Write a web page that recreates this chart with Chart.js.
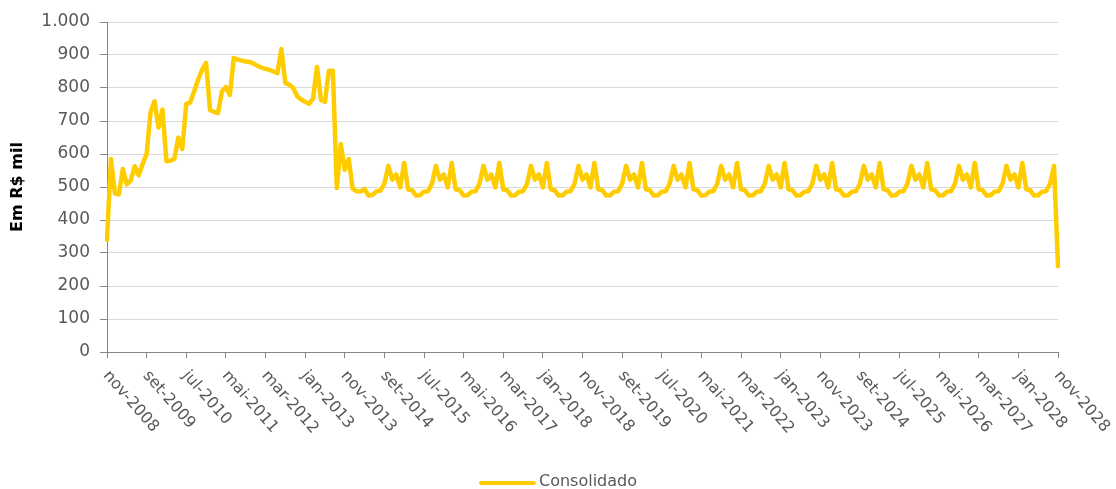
<!DOCTYPE html>
<html>
<head>
<meta charset="utf-8">
<script src="https://cdn.jsdelivr.net/npm/chart.js@4/dist/chart.umd.min.js"></script>
<style>
  html, body { margin: 0; padding: 0; background: #ffffff; }
</style>
</head>
<body>
<canvas id="chart" width="1116" height="489"></canvas>
<script>
// month names (pt-BR) used to build the monthly categories, nov-2008 .. nov-2028
const monthNames = ["jan", "fev", "mar", "abr", "mai", "jun", "jul", "ago", "set", "out", "nov", "dez"];

// labels shown under the x axis (every 10 months)
const tickLabels = [
  "nov-2008", "set-2009", "jul-2010", "mai-2011", "mar-2012", "jan-2013", "nov-2013",
  "set-2014", "jul-2015", "mai-2016", "mar-2017", "jan-2018", "nov-2018", "set-2019",
  "jul-2020", "mai-2021", "mar-2022", "jan-2023", "nov-2023", "set-2024", "jul-2025",
  "mai-2026", "mar-2027", "jan-2028", "nov-2028"
];

// Consolidado, Em R$ mil — one row per nov..out
const consolidado = [
  340, 585, 480, 478, 555, 508, 520, 563, 535, 570, 600, 728,   // nov-2008 .. out-2009
  760, 680, 735, 578, 580, 585, 650, 615, 752, 756, 790, 825,   // nov-2009 .. out-2010
  855, 876, 733, 728, 724, 790, 803, 779, 891, 886, 883, 880,   // nov-2010 .. out-2011
  879, 874, 867, 862, 858, 855, 850, 845, 918, 815, 810, 800,   // nov-2011 .. out-2012
  775, 765, 758, 752, 768, 864, 764, 758, 852, 852, 497, 630,   // nov-2012 .. out-2013
  552, 585, 495, 487, 486, 494, 474, 476, 487, 489, 510, 564,   // nov-2013 .. out-2014
  522, 538, 499, 573, 493, 490, 474, 475, 486, 487, 510, 564,   // nov-2014 .. out-2015
  522, 538, 499, 573, 493, 490, 474, 475, 486, 487, 510, 564,   // 2016
  522, 538, 499, 573, 493, 490, 474, 475, 486, 487, 510, 564,   // 2017
  522, 538, 499, 573, 493, 490, 474, 475, 486, 487, 510, 564,   // 2018
  522, 538, 499, 573, 493, 490, 474, 475, 486, 487, 510, 564,   // 2019
  522, 538, 499, 573, 493, 490, 474, 475, 486, 487, 510, 564,   // 2020
  522, 538, 499, 573, 493, 490, 474, 475, 486, 487, 510, 564,   // 2021
  522, 538, 499, 573, 493, 490, 474, 475, 486, 487, 510, 564,   // 2022
  522, 538, 499, 573, 493, 490, 474, 475, 486, 487, 510, 564,   // 2023
  522, 538, 499, 573, 493, 490, 474, 475, 486, 487, 510, 564,   // 2024
  522, 538, 499, 573, 493, 490, 474, 475, 486, 487, 510, 564,   // 2025
  522, 538, 499, 573, 493, 490, 474, 475, 486, 487, 510, 564,   // 2026
  522, 538, 499, 573, 493, 490, 474, 475, 486, 487, 510, 564,   // 2027
  522, 538, 499, 573, 493, 490, 474, 475, 486, 487, 510, 564,   // nov-2027 .. out-2028
  260                                                           // nov-2028
];

const seriesName = "Consolidado";
const yTitle = "Em R$ mil";

const labels = [];
for (let i = 0; i < consolidado.length; i++) {
  const m = (10 + i) % 12;
  const y = 2008 + Math.floor((10 + i) / 12);
  labels.push(`${monthNames[m]}-${y}`);
}

const FONT = '"DejaVu Sans", Verdana, sans-serif';
const TEXT_COLOR = "#595959";
const LINE_COLOR = "#FFCC00";

// x labels slant down to the right, which Chart.js can't do itself
const slantedLabels = {
  id: "slantedLabels",
  afterDraw(chart) {
    const scale = chart.scales.x;
    const ctx = chart.ctx;
    ctx.save();
    ctx.font = `16px ${FONT}`;
    ctx.fillStyle = TEXT_COLOR;
    ctx.textAlign = "left";
    ctx.textBaseline = "middle";
    scale.ticks.forEach((tick, i) => {
      const px = scale.getPixelForTick(i);
      ctx.save();
      ctx.translate(px - 1, scale.top + 21);
      ctx.rotate(Math.PI * 49 / 180);
      ctx.fillText(tickLabels[i], 0, 0);
      ctx.restore();
    });
    ctx.restore();
  }
};

const bottomLegend = {
  id: "bottomLegend",
  afterDraw(chart) {
    const ctx = chart.ctx;
    ctx.save();
    ctx.font = `16px ${FONT}`;
    const textW = ctx.measureText(seriesName).width;
    const lineW = 57;
    const gap = 3;
    const total = lineW + gap + textW;
    const x0 = (chart.width - total) / 2;
    const y = 482;
    ctx.strokeStyle = LINE_COLOR;
    ctx.lineWidth = 4;
    ctx.lineCap = "round";
    ctx.beginPath();
    ctx.moveTo(x0 + 2, y + 1);
    ctx.lineTo(x0 + lineW - 2, y + 1);
    ctx.stroke();
    ctx.fillStyle = TEXT_COLOR;
    ctx.textAlign = "left";
    ctx.textBaseline = "middle";
    ctx.fillText(seriesName, x0 + lineW + gap, y);
    ctx.restore();
  }
};

new Chart(document.getElementById("chart"), {
  type: "line",
  data: {
    labels: labels,
    datasets: [
      {
        label: seriesName,
        data: consolidado,
        borderColor: LINE_COLOR,
        backgroundColor: LINE_COLOR,
        borderWidth: 4.5,
        borderJoinStyle: "round",
        borderCapStyle: "round",
        pointRadius: 0,
        tension: 0,
        fill: false
      }
    ]
  },
  options: {
    responsive: false,
    animation: false,
    layout: {
      padding: { left: 0, right: 58, top: 22, bottom: 0 }
    },
    plugins: {
      legend: { display: false },
      tooltip: { enabled: false }
    },
    scales: {
      x: {
        type: "category",
        afterBuildTicks: (scale) => {
          scale.ticks = scale.ticks.filter((t) => t.value % 10 === 0);
        },
        afterFit: (scale) => {
          scale.height = 137;
        },
        ticks: { display: false, autoSkip: false },
        grid: {
          display: true,
          drawOnChartArea: false,
          drawTicks: true,
          tickLength: 6,
          tickColor: "#868686"
        },
        border: { color: "#868686", width: 1 }
      },
      y: {
        min: 0,
        max: 1000,
        afterFit: (scale) => {
          scale.width = 107;
        },
        ticks: {
          stepSize: 100,
          padding: 10,
          color: TEXT_COLOR,
          font: { family: FONT, size: 17 },
          callback: (value) => value >= 1000 ? "1.000" : String(value)
        },
        grid: {
          color: "#d9d9d9",
          lineWidth: 1,
          drawTicks: true,
          tickLength: 7,
          tickColor: "#868686"
        },
        border: { color: "#868686", width: 1 },
        title: {
          display: true,
          text: yTitle,
          color: "#000000",
          font: { family: FONT, size: 16, weight: "bold" },
          padding: { top: 8, bottom: 0 }
        }
      }
    }
  },
  plugins: [slantedLabels, bottomLegend]
});
</script>
</body>
</html>
